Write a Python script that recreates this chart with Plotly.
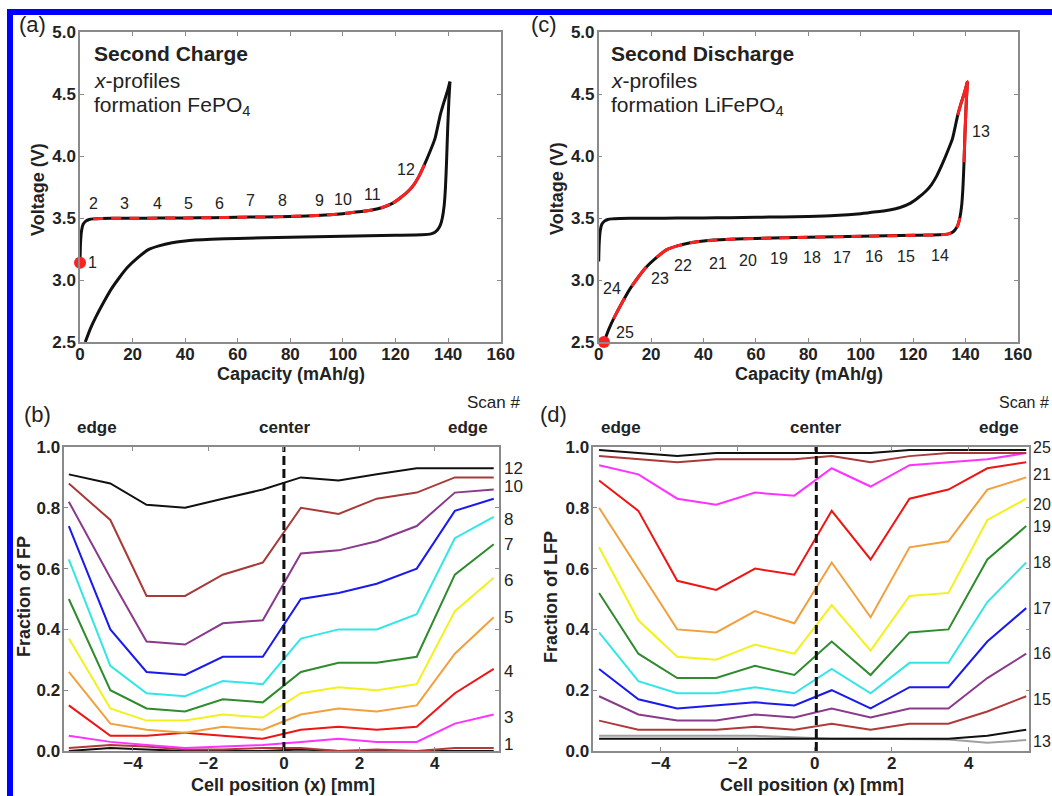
import plotly.graph_objects as go

# ---------------- data ----------------
# (a)/(c) galvanostatic curves: capacity (mAh/g) vs voltage (V)
cap_charge = [0, 0.2, 0.6, 1.2, 2.2, 3.5, 5, 8, 12, 20, 30, 40, 50, 60, 70, 80, 90,
              100, 106, 111, 115, 119, 122, 125, 127, 129, 131, 133, 135, 137, 138.5, 139.7, 140.7]
v_charge = [3.15, 3.30, 3.40, 3.45, 3.475, 3.488, 3.493, 3.496, 3.497, 3.498, 3.499, 3.50, 3.503,
            3.506, 3.509, 3.513, 3.52, 3.535, 3.55, 3.565, 3.585, 3.62, 3.665, 3.72, 3.77, 3.84,
            3.93, 4.03, 4.14, 4.33, 4.44, 4.52, 4.60]

cap_dis = [140.7, 140.3, 139.8, 139.4, 139.0, 138.5, 137.8, 137.0, 136.0, 135.0, 133.5, 130,
           120, 100, 80, 60, 50, 40, 35, 30, 26, 22, 18, 15, 12, 9, 6, 4, 2.0]
v_dis = [4.60, 4.45, 4.20, 3.95, 3.75, 3.60, 3.50, 3.44, 3.405, 3.385, 3.372, 3.365, 3.36,
         3.352, 3.345, 3.335, 3.328, 3.315, 3.30, 3.275, 3.245, 3.18, 3.10, 3.02, 2.93, 2.82,
         2.70, 2.61, 2.50]

# scan-number labels on the voltage curves (capacity, voltage)
scan_a = ["1", "2", "3", "4", "5", "6", "7", "8", "9", "10", "11", "12"]
scan_a_cap = [4.8, 5.3, 17.1, 29.3, 41.1, 53, 64.8, 77, 91, 100.2, 111.2, 123.8]
scan_a_v = [3.14, 3.62, 3.62, 3.62, 3.62, 3.62, 3.64, 3.64, 3.645, 3.65, 3.69, 3.89]

scan_c = ["13", "14", "15", "16", "17", "18", "19", "20", "21", "22", "23", "24", "25"]
scan_c_cap = [145.9, 130.2, 117.3, 105.2, 92.8, 81.3, 68.9, 56.9, 45.4, 32.3, 23.5, 5.1, 10.2]
scan_c_v = [4.20, 3.20, 3.19, 3.19, 3.18, 3.18, 3.175, 3.16, 3.135, 3.12, 3.01, 2.93, 2.58]

# (b) fraction of FP vs cell position
x_pos_b = [-5.7, -4.6, -3.64, -2.62, -1.62, -0.56, 0.45, 1.45, 2.46, 3.52, 4.53, 5.56]
fp_black_top = [0.91, 0.88, 0.81, 0.80, 0.83, 0.86, 0.90, 0.89, 0.91, 0.93, 0.93, 0.93]
fp_brown = [0.88, 0.76, 0.51, 0.51, 0.58, 0.62, 0.80, 0.78, 0.83, 0.85, 0.90, 0.90]
fp_purple = [0.82, 0.57, 0.36, 0.35, 0.42, 0.43, 0.65, 0.66, 0.69, 0.74, 0.85, 0.86]
fp_blue = [0.74, 0.40, 0.26, 0.25, 0.31, 0.31, 0.50, 0.52, 0.55, 0.60, 0.79, 0.83]
fp_cyan = [0.63, 0.28, 0.19, 0.18, 0.23, 0.22, 0.37, 0.40, 0.40, 0.45, 0.70, 0.77]
fp_green = [0.50, 0.20, 0.14, 0.13, 0.17, 0.16, 0.26, 0.29, 0.29, 0.31, 0.58, 0.68]
fp_yellow = [0.37, 0.14, 0.10, 0.10, 0.12, 0.11, 0.19, 0.21, 0.20, 0.22, 0.46, 0.57]
fp_orange = [0.26, 0.09, 0.07, 0.06, 0.08, 0.07, 0.12, 0.14, 0.13, 0.15, 0.32, 0.44]
fp_red = [0.15, 0.05, 0.05, 0.06, 0.05, 0.04, 0.07, 0.08, 0.07, 0.08, 0.19, 0.27]
fp_magenta = [0.05, 0.03, 0.02, 0.01, 0.015, 0.02, 0.03, 0.04, 0.03, 0.03, 0.09, 0.12]
fp_darkred = [0.01, 0.02, 0.015, 0.005, 0.005, 0.01, 0.01, 0.0, 0.005, 0.0, 0.01, 0.01]
fp_black_low = [0.0, 0.01, 0.005, 0.0, 0.0, 0.0, 0.005, 0.0, 0.0, 0.0, 0.0, 0.0]
scan_b = ["12", "10", "8", "7", "6", "5", "4", "3", "1"]
scan_b_level = [0.93, 0.87, 0.76, 0.68, 0.56, 0.44, 0.26, 0.11, 0.02]

# (d) fraction of LFP vs cell position
x_pos_d = [-5.6, -4.58, -3.57, -2.56, -1.55, -0.53, 0.44, 1.45, 2.46, 3.47, 4.48, 5.49]
lfp_black_top = [0.99, 0.98, 0.97, 0.98, 0.98, 0.98, 0.98, 0.98, 0.99, 0.99, 0.99, 0.99]
lfp_brown = [0.97, 0.96, 0.95, 0.96, 0.96, 0.96, 0.97, 0.95, 0.97, 0.98, 0.98, 0.98]
lfp_magenta = [0.94, 0.91, 0.83, 0.81, 0.85, 0.84, 0.93, 0.87, 0.94, 0.95, 0.96, 0.98]
lfp_red = [0.89, 0.79, 0.56, 0.53, 0.60, 0.58, 0.79, 0.63, 0.83, 0.86, 0.93, 0.95]
lfp_orange = [0.80, 0.60, 0.40, 0.39, 0.46, 0.42, 0.62, 0.44, 0.67, 0.69, 0.86, 0.90]
lfp_yellow = [0.67, 0.43, 0.31, 0.30, 0.35, 0.32, 0.48, 0.33, 0.51, 0.52, 0.76, 0.83]
lfp_green = [0.52, 0.32, 0.24, 0.24, 0.28, 0.25, 0.36, 0.25, 0.39, 0.40, 0.63, 0.74]
lfp_cyan = [0.39, 0.23, 0.19, 0.19, 0.21, 0.19, 0.27, 0.19, 0.29, 0.29, 0.49, 0.62]
lfp_blue = [0.27, 0.17, 0.14, 0.15, 0.16, 0.15, 0.20, 0.14, 0.21, 0.21, 0.36, 0.47]
lfp_purple = [0.18, 0.12, 0.10, 0.10, 0.12, 0.11, 0.14, 0.11, 0.14, 0.14, 0.24, 0.32]
lfp_darkred = [0.10, 0.07, 0.07, 0.07, 0.08, 0.07, 0.09, 0.07, 0.09, 0.09, 0.13, 0.18]
lfp_gray = [0.05, 0.05, 0.05, 0.05, 0.05, 0.045, 0.04, 0.04, 0.04, 0.038, 0.027, 0.036]
lfp_black_low = [0.04, 0.04, 0.04, 0.04, 0.04, 0.04, 0.04, 0.04, 0.04, 0.04, 0.05, 0.07]
scan_d = ["25", "21", "20", "19", "18", "17", "16", "15", "13"]
scan_d_level = [1.0, 0.91, 0.81, 0.74, 0.62, 0.47, 0.32, 0.17, 0.03]

# ---------------- styling ----------------
F = "Liberation Sans, Arial, sans-serif"
W, H = 1052, 796
BLACK = "#111111"
RED = "#FF2020"
C = dict(black="#111111", brown="#A83A3A", purple="#8B3A8B", blue="#1A1AEE",
         cyan="#33E6E6", green="#2E8B2E", yellow="#F2F21A", orange="#F2A03C",
         red="#EE1515", magenta="#FF33FF", darkred="#B03A3A", gray="#A0A0A0")


def px(x):
    return x / W


def py(y):
    return 1 - y / H


fig = go.Figure()


def line(x, y, color, width, xa, ya, dash="solid", shape="spline", clip=True):
    fig.add_trace(go.Scatter(x=x, y=y, mode="lines", xaxis=xa, yaxis=ya,
                             line=dict(color=color, width=width, dash=dash, shape=shape,
                                       smoothing=0.6),
                             cliponaxis=clip, hoverinfo="skip"))


def subset(xs, ys, cond):
    pts = [(a, b) for a, b in zip(xs, ys) if cond(a, b)]
    return [p[0] for p in pts], [p[1] for p in pts]


# ----- panel (a) -----
line(cap_charge, v_charge, BLACK, 3, "x", "y")
line(cap_dis, v_dis, BLACK, 3, "x", "y")
sx, sy = subset(cap_charge, v_charge, lambda c, v: 4 <= c <= 122)
line(sx, sy, RED, 3, "x", "y", dash="10px,8px")
sx, sy = subset(cap_charge, v_charge, lambda c, v: 119 <= c <= 131)
line(sx, sy, RED, 3, "x", "y")
fig.add_trace(go.Scatter(x=[cap_charge[0]], y=[3.14], mode="markers", xaxis="x", yaxis="y",
                         marker=dict(color=RED, size=12), cliponaxis=False, hoverinfo="skip"))

# ----- panel (c) -----
line(cap_charge, v_charge, BLACK, 3, "x2", "y2")
line(cap_dis, v_dis, BLACK, 3, "x2", "y2")
tx, ty = subset(cap_charge, v_charge, lambda c, v: c >= 137)
dx, dy = subset(cap_dis, v_dis, lambda c, v: v >= 3.85)
line(tx + dx[1:], ty + dy[1:], RED, 3, "x2", "y2")
sx, sy = subset(cap_dis, v_dis, lambda c, v: 30 <= c <= 137.8)
line(sx, sy, RED, 3, "x2", "y2", dash="10px,8px")
sx, sy = subset(cap_dis, v_dis, lambda c, v: 4 <= c <= 30)
line(sx, sy, RED, 3, "x2", "y2", dash="24px,14px")
fig.add_trace(go.Scatter(x=[cap_dis[-1]], y=[v_dis[-1]], mode="markers", xaxis="x2", yaxis="y2",
                         marker=dict(color=RED, size=12), cliponaxis=False, hoverinfo="skip"))

# ----- panel (b) -----
b_series = [(fp_black_low, "black"), (fp_darkred, "darkred"), (fp_magenta, "magenta"),
            (fp_red, "red"), (fp_orange, "orange"), (fp_yellow, "yellow"),
            (fp_green, "green"), (fp_cyan, "cyan"), (fp_blue, "blue"),
            (fp_purple, "purple"), (fp_brown, "brown"), (fp_black_top, "black")]
for ys, cname in b_series:
    line(x_pos_b, ys, C[cname], 2, "x3", "y3", shape="linear")
line([0, 0], [0, 1], BLACK, 3, "x3", "y3", dash="9px,4px", shape="linear")

# ----- panel (d) -----
d_series = [(lfp_gray, "gray"), (lfp_black_low, "black"), (lfp_darkred, "darkred"),
            (lfp_purple, "purple"), (lfp_blue, "blue"), (lfp_cyan, "cyan"),
            (lfp_green, "green"), (lfp_yellow, "yellow"), (lfp_orange, "orange"),
            (lfp_red, "red"), (lfp_magenta, "magenta"), (lfp_brown, "brown"),
            (lfp_black_top, "black")]
for ys, cname in d_series:
    line(x_pos_d, ys, C[cname], 2, "x4", "y4", shape="linear")
line([0.04, 0.04], [0, 1], BLACK, 3, "x4", "y4", dash="9px,4px", shape="linear")

# ---------------- axes ----------------
tickfont = dict(family=F, size=17, color="#222222", weight="bold")
common = dict(showline=True, mirror="ticks", linecolor="#8a8a8a", linewidth=1.5,
              ticks="inside", ticklen=4, tickwidth=1, tickcolor="#8a8a8a",
              showgrid=False, zeroline=False, tickfont=tickfont, automargin=False)
xcommon = dict(common, ticklabelstandoff=-4)
ycommon = dict(common, ticklabelstandoff=-1)

dom_top = [py(342), py(32)]
dom_bot = [py(751), py(447)]
fig.update_layout(
    xaxis=dict(domain=[px(80), px(500.7)], range=[0, 160], tickvals=list(range(0, 161, 20)),
               anchor="y", **xcommon),
    yaxis=dict(domain=dom_top, range=[2.5, 5.0], tickvals=[2.5, 3.0, 3.5, 4.0, 4.5, 5.0],
               tickformat=".1f", anchor="x", **ycommon),
    xaxis2=dict(domain=[px(598.7), px(1018)], range=[0, 160], tickvals=list(range(0, 161, 20)),
                anchor="y2", **xcommon),
    yaxis2=dict(domain=dom_top, range=[2.5, 5.0], tickvals=[2.5, 3.0, 3.5, 4.0, 4.5, 5.0],
                tickformat=".1f", anchor="x2", **ycommon),
    xaxis3=dict(domain=[px(64.3), px(499)], range=[-5.82, 5.7], tickvals=[-4, -2, 0, 2, 4],
                anchor="y3", **xcommon),
    yaxis3=dict(domain=dom_bot, range=[0, 1], tickvals=[0, 0.2, 0.4, 0.6, 0.8, 1.0],
                tickformat=".1f", anchor="x3", **ycommon),
    xaxis4=dict(domain=[px(593.3), px(1029.3)], range=[-5.75, 5.57], tickvals=[-4, -2, 0, 2, 4],
                anchor="y4", **xcommon),
    yaxis4=dict(domain=dom_bot, range=[0, 1], tickvals=[0, 0.2, 0.4, 0.6, 0.8, 1.0],
                tickformat=".1f", anchor="x4", **ycommon),
)

# ---------------- annotations ----------------
anns = []


def ann(text, x, y, size, bold=False, xanchor="center", angle=0, color="#222222"):
    anns.append(dict(text=text, x=px(x), y=py(y), xref="paper", yref="paper",
                     xanchor=xanchor, yanchor="middle", showarrow=False, textangle=angle,
                     font=dict(family=F, size=size, color=color,
                               weight="bold" if bold else "normal")))


# panel letters
ann("(a)", 32, 25, 22)
ann("(c)", 544, 25, 22)
ann("(b)", 38, 414, 22)
ann("(d)", 553, 414, 22)

# panel (a)/(c) titles
for x0, t1, t3 in [(92, "Second Charge", "formation FePO<sub>4</sub>"),
                   (609, "Second Discharge", "formation LiFePO<sub>4</sub>")]:
    ann(t1, x0, 53, 21, bold=True, xanchor="left")
    ann("<i>x</i>-profiles", x0, 80, 21, xanchor="left")
    ann(t3, x0, 106, 21, xanchor="left")

# axis titles
ann("Voltage (V)", 38, 189, 18, bold=True, angle=-90)
ann("Capacity (mAh/g)", 291, 374, 18, bold=True)
ann("Voltage (V)", 557, 189, 18, bold=True, angle=-90)
ann("Capacity (mAh/g)", 809, 374, 18, bold=True)
ann("Fraction of FP", 24, 597, 18, bold=True, angle=-90)
ann("Cell position (x) [mm]", 283, 785, 18, bold=True)
ann("Fraction of LFP", 551, 597, 18, bold=True, angle=-90)
ann("Cell position (x) [mm]", 812, 785, 18, bold=True)

# edge / center headers
for xe, xc, xe2 in [(97, 284, 468), (621, 815, 999)]:
    ann("edge", xe, 427, 17, bold=True)
    ann("center", xc, 427, 17, bold=True)
    ann("edge", xe2, 427, 17, bold=True)
ann("Scan #", 493, 402, 17)
ann("Scan #", 997, 402, 16, xanchor="left")

# scan labels on voltage curves
for t, c, v in zip(scan_a, scan_a_cap, scan_a_v):
    anns.append(dict(text=t, x=c, y=v, xref="x", yref="y", showarrow=False,
                     font=dict(family=F, size=16, color="#222222")))
for t, c, v in zip(scan_c, scan_c_cap, scan_c_v):
    anns.append(dict(text=t, x=c, y=v, xref="x2", yref="y2", showarrow=False,
                     font=dict(family=F, size=16, color="#222222")))

# scan labels right of (b) and (d)
y_top, y_bot = 447, 751
for t, lv in zip(scan_b, scan_b_level):
    ann(t, 502, y_bot - lv * (y_bot - y_top), 17, xanchor="left")
for t, lv in zip(scan_d, scan_d_level):
    ann(t, 1031, y_bot - lv * (y_bot - y_top), 16, xanchor="left")

# blue frame pieces (top and left)
shapes = [
    dict(type="rect", xref="paper", yref="paper", x0=px(7), x1=px(13), y0=0, y1=py(9),
         fillcolor="#0000FF", line=dict(width=0), layer="above"),
    dict(type="rect", xref="paper", yref="paper", x0=px(7), x1=1.0, y0=py(15), y1=py(9),
         fillcolor="#0000FF", line=dict(width=0), layer="above"),
]

fig.update_layout(width=W, height=H, margin=dict(l=0, r=0, t=0, b=0, autoexpand=False),
                  paper_bgcolor="white", plot_bgcolor="white", showlegend=False,
                  annotations=anns, shapes=shapes, font=dict(family=F))

fig.write_html("out.html", config={"displayModeBar": False},
               post_script="document.body.style.margin='0';document.body.style.overflow='hidden';")
